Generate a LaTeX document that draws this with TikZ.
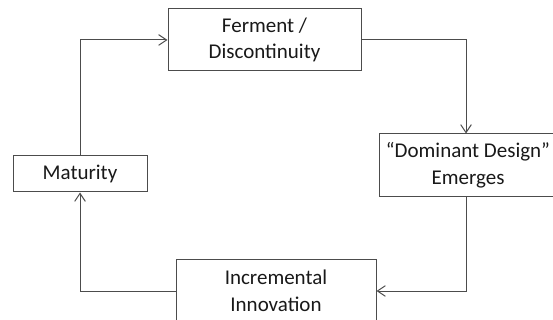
\documentclass[tikz,border=0pt]{standalone}
\usepackage{fontspec}
\setmainfont{Carlito}
\usetikzlibrary{arrows.meta}
\begin{document}
\begin{tikzpicture}[x=0.75pt,y=-0.75pt,line width=0.75pt,
    >={Straight Barb[length=6pt,width=8pt]},
    stage/.style={draw=black!70,fill=white,inner sep=0pt,align=center,
        font=\fontsize{15.75}{20}\selectfont,text=black!90}]
    \clip (0,0) rectangle (553,320);
    \fill[white] (0,0) rectangle (553,320);
    \node[stage,minimum width=193*0.75pt,minimum height=62*0.75pt] (ferment) at (264.5,40) {Ferment /\\Discontinuity};
    \node[stage,minimum width=178*0.75pt,minimum height=63*0.75pt] (dominant) at (468,165.5) {“Dominant Design”\\Emerges};
    \node[stage,minimum width=200*0.75pt,minimum height=62*0.75pt] (incremental) at (276,291) {Incremental\\Innovation};
    \node[stage,minimum width=134*0.75pt,minimum height=36*0.75pt] (maturity) at (80,174) {Maturity};
    \draw[->,black!70] (ferment.east) -| ([xshift=-1.5pt]dominant.north);
    \draw[->,black!70] ([xshift=-1.5pt]dominant.south) |- (incremental.east);
    \draw[->,black!70] (incremental.west) -| (maturity.south);
    \draw[->,black!70] (maturity.north) |- (ferment.west);
\end{tikzpicture}
\end{document}
